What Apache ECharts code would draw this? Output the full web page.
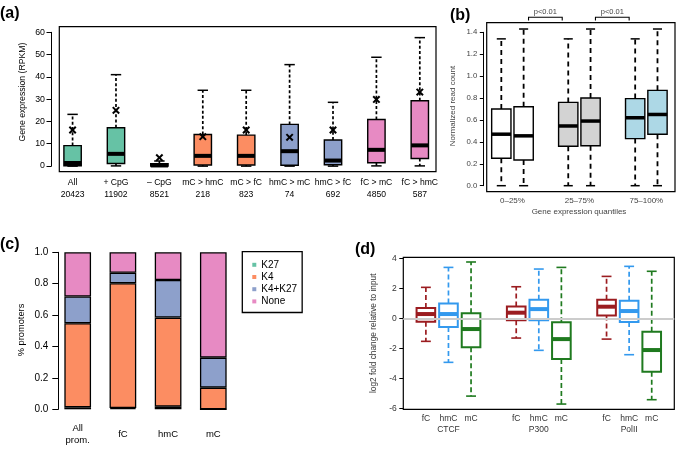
<!DOCTYPE html>
<html>
<head>
<meta charset="utf-8">
<script src="https://cdn.jsdelivr.net/npm/echarts@6/dist/echarts.min.js"></script>
<style>
  html, body { margin: 0; padding: 0; background: #fff; }
  #main { width: 685px; height: 451px; }
</style>
</head>
<body>
<div id="main"></div>
<script>
const FONT = '"Liberation Sans", Arial, Helvetica, sans-serif';

// (a) gene expression boxplots
const aCats = ['All', '+ CpG', '\u2013 CpG', 'mC > hmC', 'mC > fC', 'hmC > mC', 'hmC > fC', 'fC > mC', 'fC > hmC'];
const aCounts = ['20423', '11902', '8521', '218', '823', '74', '692', '4850', '587'];
const aLow = [0, 0.1, 0, 0, 0, 0, 0, 0.1, 0.1];
const aQ1 = [0.2, 1.2, 0.05, 0.5, 0.5, 0.4, 0.6, 1.5, 3.4];
const aMed = [1.4, 5.5, 0.3, 4.6, 4.6, 6.7, 2.5, 7.3, 9.3];
const aQ3 = [9.2, 17.2, 1.1, 14.2, 13.9, 18.7, 11.7, 20.9, 29.3];
const aHigh = [23.2, 41, 2.3, 34, 34, 45.5, 28.6, 48.8, 57.6];
const aMean = [16.2, 25, 3.8, 13.2, 16.2, 12.9, 16.2, 29.9, 33.2];
const aGroup = [0, 0, 0, 1, 1, 2, 2, 3, 3];
const set2 = ['#66c2a5', '#fc8d62', '#8da0cb', '#e78ac3'];

// (b) normalized read count by expression quantile
const bPos = [1, 2, 4, 5, 7, 8];
const bLow = [0, 0, 0, 0, 0, 0];
const bQ1 = [0.25, 0.235, 0.36, 0.365, 0.43, 0.47];
const bMed = [0.47, 0.455, 0.545, 0.59, 0.62, 0.65];
const bQ3 = [0.70, 0.72, 0.76, 0.80, 0.795, 0.87];
const bHigh = [1.34, 1.43, 1.34, 1.43, 1.34, 1.43];
const bGroup = [0, 0, 1, 1, 2, 2];
const bFills = ['#ffffff', '#d3d3d3', '#add8e6'];
const bLabels = ['0\u201325%', '25\u201375%', '75\u2013100%'];
const bLabelPos = [1.5, 4.5, 7.5];
const bSigFrom = [2, 5];
const bSigTo = [4, 7];
const bSigText = ['p<0.01', 'p<0.01'];

// (c) promoter marks
const cCats = ['All\nprom.', 'fC', 'hmC', 'mC'];
const cK27 = [0.012, 0.008, 0.017, 0];
const cK4 = [0.536, 0.795, 0.567, 0.138];
const cK4K27 = [0.17, 0.067, 0.24, 0.191];
const cNone = [0.282, 0.13, 0.176, 0.671];

// (d) log2 fold change
const dPos = [1, 2, 3, 5, 6, 7, 9, 10, 11];
const dMarks = ['fC', 'hmC', 'mC'];
const dGroups = ['CTCF', 'P300', 'PolII'];
const dLow = [-1.51, -2.91, -5.16, -1.29, -2.11, -5.69, -1.36, -2.4, -5.4];
const dQ1 = [-0.2, -0.56, -1.91, -0.11, -0.11, -2.69, 0.22, -0.22, -3.53];
const dMed = [0.31, 0.31, -0.69, 0.4, 0.64, -1.36, 0.8, 0.51, -2.09];
const dQ3 = [0.71, 1.02, 0.36, 0.82, 1.27, -0.24, 1.27, 1.2, -0.87];
const dHigh = [2.09, 3.42, 3.78, 2.13, 3.31, 3.42, 2.82, 3.49, 3.16];
const dColors = ['#9b1c20', '#3399ee', '#1f7a1f'];

function boxRender(opt) {
  return function (params, api) {
    const x = api.value(0);
    const lo = api.coord([x, api.value(1)]);
    const q1 = api.coord([x, api.value(2)]);
    const md = api.coord([x, api.value(3)]);
    const q3 = api.coord([x, api.value(4)]);
    const hi = api.coord([x, api.value(5)]);
    const k = api.value(6);
    const hw = api.size([opt.width, 0])[0] / 2;
    const cw = hw * opt.cap;
    const cx = md[0];
    const stroke = opt.stroke[k];
    const fill = opt.fill[k];
    const dashed = { stroke: stroke, lineWidth: opt.wLine, lineDash: opt.dash, fill: null };
    const solid = { stroke: stroke, lineWidth: opt.capLine, fill: null };
    const kids = [
      { type: 'line', shape: { x1: cx, y1: q3[1], x2: cx, y2: hi[1] }, style: dashed },
      { type: 'line', shape: { x1: cx, y1: q1[1], x2: cx, y2: lo[1] }, style: dashed },
      { type: 'line', shape: { x1: cx - cw, y1: hi[1], x2: cx + cw, y2: hi[1] }, style: solid },
      { type: 'line', shape: { x1: cx - cw, y1: lo[1], x2: cx + cw, y2: lo[1] }, style: solid },
      { type: 'rect', shape: { x: cx - hw, y: q3[1], width: 2 * hw, height: q1[1] - q3[1] },
        style: { fill: fill, stroke: stroke, lineWidth: opt.boxLine } },
      { type: 'line', shape: { x1: cx - hw, y1: md[1], x2: cx + hw, y2: md[1] },
        style: { stroke: stroke, lineWidth: opt.medLine } }
    ];
    if (opt.mean) {
      const m = api.coord([x, api.value(7)]);
      const s = 3.2;
      kids.push({ type: 'line', shape: { x1: m[0] - s, y1: m[1] - s, x2: m[0] + s, y2: m[1] + s }, style: { stroke: '#000', lineWidth: 2 } });
      kids.push({ type: 'line', shape: { x1: m[0] - s, y1: m[1] + s, x2: m[0] + s, y2: m[1] - s }, style: { stroke: '#000', lineWidth: 2 } });
    }
    return { type: 'group', children: kids };
  };
}

const hidden = { show: false };
const noSplit = { show: false };

const aData = aCats.map((c, i) => [i + 1, aLow[i], aQ1[i], aMed[i], aQ3[i], aHigh[i], aGroup[i], aMean[i]]);
const bData = bPos.map((p, i) => [p, bLow[i], bQ1[i], bMed[i], bQ3[i], bHigh[i], bGroup[i]]);
const dData = dPos.map((p, i) => [p, dLow[i], dQ1[i], dMed[i], dQ3[i], dHigh[i], i % 3]);
const bSigData = bSigFrom.map((f, i) => [f, bSigTo[i], i]);

function label(text, x, y, size, opts) {
  return Object.assign({
    type: 'text', x: x, y: y,
    style: { text: text, fontSize: size, fontFamily: FONT, fill: '#000', textAlign: 'center', textVerticalAlign: 'middle' }
  }, opts || {});
}

function letter(text, x, y) {
  return { type: 'text', x: x, y: y,
    style: { text: text, fontSize: 16, fontWeight: 'bold', fontFamily: FONT, fill: '#000', textAlign: 'left', textVerticalAlign: 'middle' } };
}

const chart = echarts.init(document.getElementById('main'), null, { renderer: 'canvas' });

chart.setOption({
  animation: false,
  backgroundColor: '#fff',
  textStyle: { fontFamily: FONT },
  grid: [
    { left: 59.3, top: 26.7, width: 376.7, height: 145, show: true, borderColor: '#000', borderWidth: 1.2, backgroundColor: 'transparent' },
    { left: 51.5, top: 32.3, width: 2, height: 133.7 },
    { left: 486.7, top: 22.7, width: 188.3, height: 169, show: true, borderColor: '#000', borderWidth: 1.2, backgroundColor: 'transparent' },
    { left: 483.3, top: 32.3, width: 2, height: 153.4 },
    { left: 55.1, top: 252.3, width: 180.8, height: 157 },
    { left: 403.3, top: 257.3, width: 271, height: 152, show: true, borderColor: '#000', borderWidth: 1.2, backgroundColor: 'transparent' }
  ],
  xAxis: [
    { gridIndex: 0, type: 'value', min: 0.694, max: 9.373, splitLine: noSplit, axisLine: hidden, axisTick: hidden,
      axisLabel: { customValues: aCats.map((c, i) => i + 1), formatter: v => aCats[v - 1] + '\n' + aCounts[v - 1],
        margin: 4.8, lineHeight: 12.3, fontSize: 8.6, color: '#000', fontFamily: FONT } },
    { gridIndex: 1, type: 'value', show: false },
    { gridIndex: 2, type: 'value', min: 0.345, max: 8.785, splitLine: noSplit, axisLine: hidden, axisTick: hidden,
      axisLabel: { customValues: bLabelPos, formatter: v => bLabels[bLabelPos.indexOf(v)],
        margin: 4.8, fontSize: 8, color: '#444', fontFamily: FONT } },
    { gridIndex: 3, type: 'value', show: false },
    { gridIndex: 4, type: 'category', data: cCats, axisLine: hidden, axisTick: hidden,
      axisLabel: { margin: 25, verticalAlign: 'middle', lineHeight: 11.5, fontSize: 9.5, color: '#000', fontFamily: FONT } },
    { gridIndex: 5, type: 'value', min: 0, max: 12, splitLine: noSplit, axisLine: hidden, axisTick: hidden,
      axisLabel: { customValues: dPos, formatter: v => {
          const i = dPos.indexOf(v);
          return i % 3 === 1 ? dMarks[1] + '\n' + dGroups[(i - 1) / 3] : dMarks[i % 3];
        },
        margin: 3.2, lineHeight: 11.7, fontSize: 8.5, color: '#333', fontFamily: FONT } }
  ],
  yAxis: [
    { gridIndex: 0, type: 'value', min: -2.5, max: 62.5, show: false },
    { gridIndex: 1, type: 'value', min: 0, max: 60, interval: 10, splitLine: noSplit,
      axisLine: { show: true, lineStyle: { color: '#000', width: 1 } },
      axisTick: { show: true, inside: false, length: 5, lineStyle: { color: '#000', width: 1 } },
      axisLabel: { margin: 6.5, fontSize: 8.8, color: '#000', fontFamily: FONT } },
    { gridIndex: 2, type: 'value', min: -0.0548, max: 1.4876, show: false },
    { gridIndex: 3, type: 'value', min: 0, max: 1.4, interval: 0.2, splitLine: noSplit,
      axisLine: { show: true, lineStyle: { color: '#000', width: 1 } },
      axisTick: { show: true, inside: false, length: 3.5, lineStyle: { color: '#000', width: 1 } },
      axisLabel: { margin: 6, fontSize: 7.8, color: '#444', fontFamily: FONT, formatter: v => v.toFixed(1) } },
    { gridIndex: 4, type: 'value', min: 0, max: 1, interval: 0.2, offset: -3.2, splitLine: noSplit,
      axisLine: { show: true, lineStyle: { color: '#000', width: 1 } },
      axisTick: { show: true, inside: false, length: 6, lineStyle: { color: '#000', width: 1 } },
      axisLabel: { margin: 10, fontSize: 10, color: '#000', fontFamily: FONT, formatter: v => v.toFixed(1) } },
    { gridIndex: 5, type: 'value', min: -6.04, max: 4.093, splitLine: noSplit, axisLine: hidden,
      axisTick: { show: true, inside: false, length: 4, customValues: [-6, -4, -2, 0, 2, 4], lineStyle: { color: '#000', width: 1 } },
      axisLabel: { customValues: [-6, -4, -2, 0, 2, 4], margin: 6.6, fontSize: 8.5, color: '#333', fontFamily: FONT } }
  ],
  legend: {
    left: 242.3, top: 251.7, orient: 'vertical', selectedMode: false,
    itemWidth: 4, itemHeight: 4, itemGap: 0, icon: 'rect',
    padding: [7, 5, 5, 10], borderColor: '#000', borderWidth: 1.3,
    itemStyle: { borderWidth: 0 },
    textStyle: { fontSize: 10, lineHeight: 12.2, color: '#000', fontFamily: FONT },
    data: ['K27', 'K4', 'K4+K27', 'None']
  },
  series: [
    { type: 'custom', xAxisIndex: 0, yAxisIndex: 0, silent: true, clip: false, data: aData,
      renderItem: boxRender({ width: 0.4, cap: 0.6, stroke: ['#000', '#000', '#000', '#000'], fill: set2,
        wLine: 1.7, capLine: 1.5, dash: [3, 2.2], boxLine: 1.4, medLine: 4, mean: true }) },
    { type: 'custom', xAxisIndex: 2, yAxisIndex: 2, silent: true, clip: false, data: bData,
      renderItem: boxRender({ width: 0.865, cap: 0.47, stroke: ['#000', '#000', '#000'], fill: bFills,
        wLine: 1.8, capLine: 1.5, dash: [5, 4], boxLine: 1.4, medLine: 3.5, mean: false }) },
    { type: 'custom', xAxisIndex: 2, yAxisIndex: 2, silent: true, clip: false, data: bSigData,
      renderItem: function (params, api) {
        const x1 = api.value(0) + 0.22, x2 = api.value(1) - 0.27;
        const a = api.coord([x1, 1.538]), b = api.coord([x2, 1.538]);
        const a2 = api.coord([x1, 1.507]), b2 = api.coord([x2, 1.507]);
        const t = api.coord([(x1 + x2) / 2, 1.582]);
        const st = { stroke: '#000', lineWidth: 1.1, fill: null };
        return { type: 'group', children: [
          { type: 'polyline', shape: { points: [a2, a, b, b2] }, style: st },
          { type: 'text', x: t[0], y: t[1], style: { text: bSigText[api.value(2)], fontSize: 7.5, fontFamily: FONT,
            fill: '#444', align: 'center', verticalAlign: 'middle' } }
        ] };
      } },
    { name: 'K27', type: 'bar', xAxisIndex: 4, yAxisIndex: 4, stack: 'c', barWidth: 26.7, data: cK27,
      itemStyle: { color: set2[0], borderColor: '#000', borderWidth: 1.3 }, emphasis: { disabled: true } },
    { name: 'K4', type: 'bar', xAxisIndex: 4, yAxisIndex: 4, stack: 'c', barWidth: 26.7, data: cK4,
      itemStyle: { color: set2[1], borderColor: '#000', borderWidth: 1.3 }, emphasis: { disabled: true } },
    { name: 'K4+K27', type: 'bar', xAxisIndex: 4, yAxisIndex: 4, stack: 'c', barWidth: 26.7, data: cK4K27,
      itemStyle: { color: set2[2], borderColor: '#000', borderWidth: 1.3 }, emphasis: { disabled: true } },
    { name: 'None', type: 'bar', xAxisIndex: 4, yAxisIndex: 4, stack: 'c', barWidth: 26.7, data: cNone,
      itemStyle: { color: set2[3], borderColor: '#000', borderWidth: 1.3 }, emphasis: { disabled: true } },
    { type: 'custom', xAxisIndex: 5, yAxisIndex: 5, silent: true, clip: false, data: dData,
      renderItem: boxRender({ width: 0.825, cap: 0.53, stroke: dColors, fill: ['#fff', '#fff', '#fff'],
        wLine: 1.7, capLine: 1.6, dash: [5, 3], boxLine: 2, medLine: 4, mean: false }),
      markLine: { silent: true, symbol: 'none', label: { show: false }, z: 10,
        lineStyle: { color: '#cccccc', width: 2, type: 'solid' }, data: [{ yAxis: 0 }] } }
  ],
  graphic: [
    letter('(a)', 0, 14),
    letter('(b)', 450, 15.7),
    letter('(c)', 0, 245),
    letter('(d)', 355, 250),
    label('Gene expression (RPKM)', 22.5, 92, 8.7, { rotation: Math.PI / 2 }),
    label('Normalized read count', 453, 106, 8, { rotation: Math.PI / 2, style: { text: 'Normalized read count', fontSize: 8, fontFamily: FONT, fill: '#444', textAlign: 'center', textVerticalAlign: 'middle' } }),
    label('Gene expression quantiles', 579, 211.7, 8, { style: { text: 'Gene expression quantiles', fontSize: 8, fontFamily: FONT, fill: '#444', textAlign: 'center', textVerticalAlign: 'middle' } }),
    label('% promoters', 21.7, 330, 9.3, { rotation: Math.PI / 2 }),
    label('log2 fold change relative to input', 373.3, 333.3, 8.3, { rotation: Math.PI / 2, style: { text: 'log2 fold change relative to input', fontSize: 8.3, fontFamily: FONT, fill: '#333', textAlign: 'center', textVerticalAlign: 'middle' } })
  ]
});
</script>
</body>
</html>
